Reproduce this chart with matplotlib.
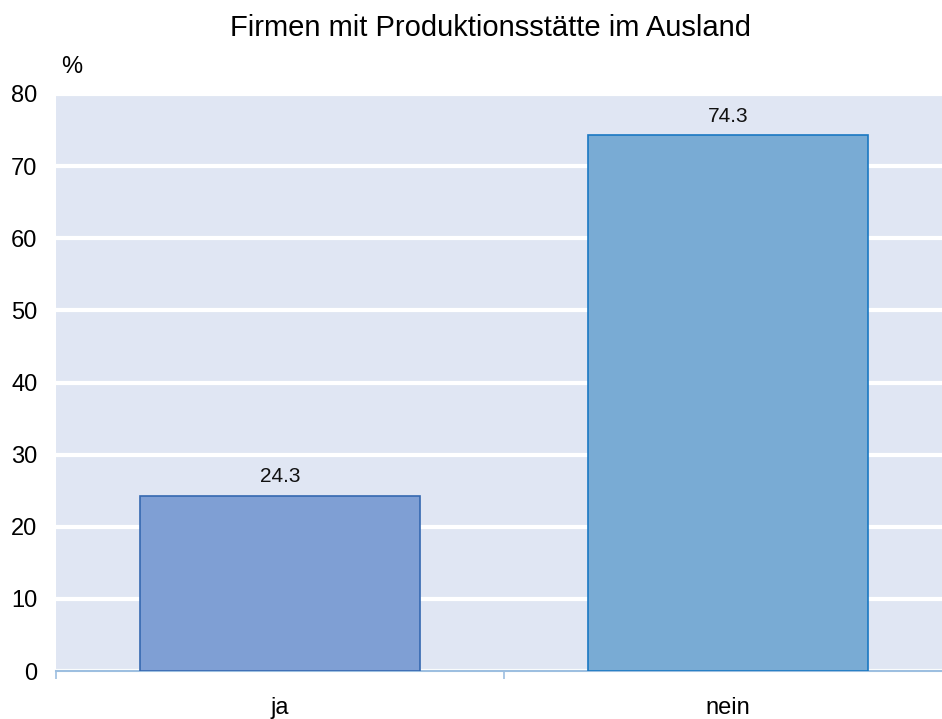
import matplotlib
matplotlib.use("Agg")
import matplotlib.pyplot as plt

plt.rcParams['font.family'] = ['Liberation Sans', 'DejaVu Sans']

categories = ["ja", "nein"]
values = [24.3, 74.3]
y_ticks = [0, 10, 20, 30, 40, 50, 60, 70, 80]

bar_colors = ["#7f9fd4", "#79abd4"]
edge_colors = ["#3568b0", "#1a78c2"]

fig = plt.figure(figsize=(9.42, 7.19), dpi=100)
ax = fig.add_axes([56 / 942, 48 / 719, 896 / 942, 577 / 719])
ax.set_facecolor("#e0e6f3")

x = list(range(len(categories)))
ax.bar(x, values, width=0.623, color=bar_colors, edgecolor=edge_colors,
       linewidth=1.2, zorder=3)

for xi, v in zip(x, values):
    ax.text(xi, v + 1.3, f"{v:.1f}", ha="center", va="bottom", fontsize=15,
            color="#111111", zorder=4)

ax.set_xlim(-0.5, 1.5)
ax.set_ylim(0, 80)
ax.set_yticks(y_ticks)
ax.yaxis.grid(True, color="white", linewidth=3, zorder=1)
ax.set_axisbelow(True)

ax.set_xticks([-0.5, 0.5, 1.5], minor=False)
ax.set_xticklabels([])
ax.set_xticks(x, minor=True)
ax.set_xticklabels(categories, minor=True, fontsize=17)
ax.tick_params(axis="x", which="major", length=6, color="#9dbfe0", width=1.2)
ax.tick_params(axis="x", which="minor", length=0, pad=19)
ax.tick_params(axis="y", length=0, labelsize=17, pad=13.5)

for side in ["top", "right", "left"]:
    ax.spines[side].set_visible(False)
ax.spines["bottom"].set_color("#9dbfe0")
ax.spines["bottom"].set_linewidth(1.5)

fig.text(72 / 942, 1 - 67 / 719, "%", fontsize=17, ha="center", va="center")
fig.text(490 / 942, 1 - 28 / 719, "Firmen mit Produktionsstätte im Ausland",
         fontsize=21, ha="center", va="center")

fig.savefig("out.png", dpi=100)
